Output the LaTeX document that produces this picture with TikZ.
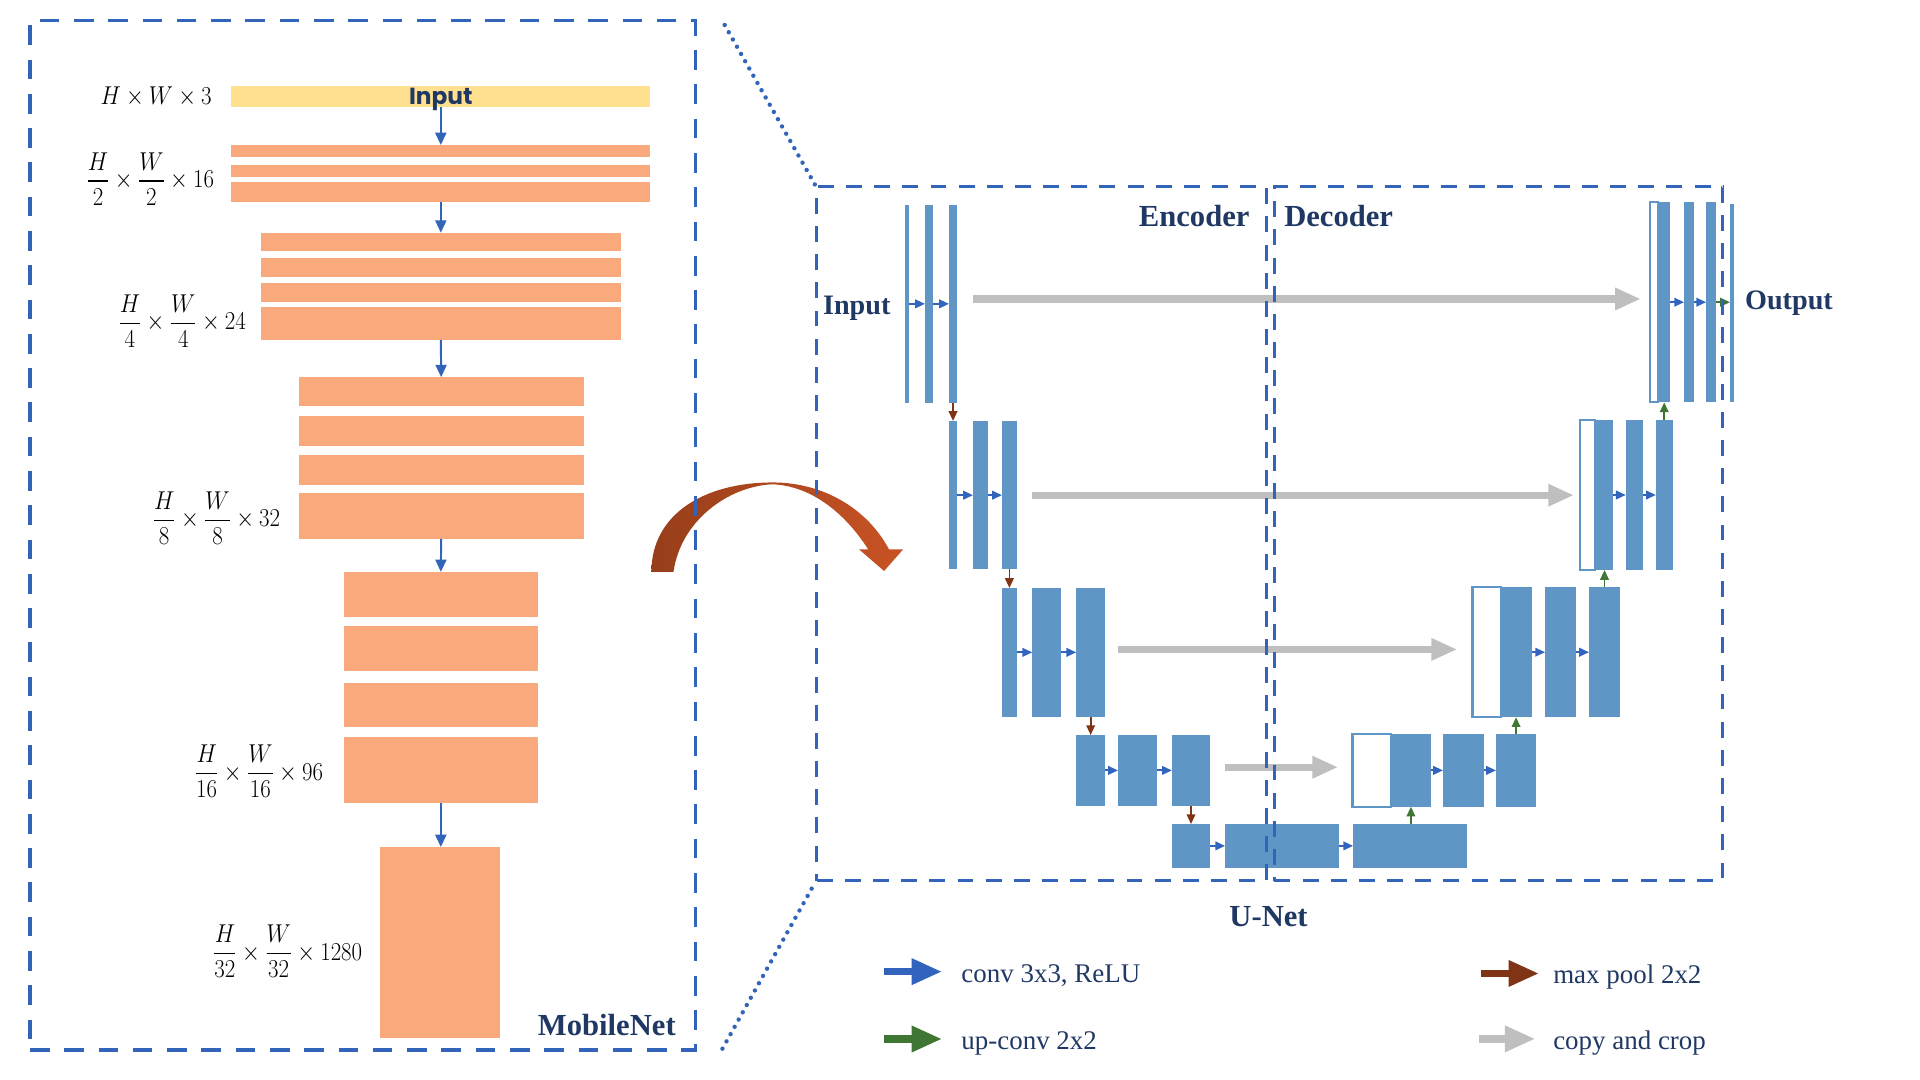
\documentclass[tikz,border=0pt]{standalone}
\usepackage{amsmath}
\usepackage{fontspec}
\setmainfont{Liberation Serif}
\newfontfamily\popfont{Poppins}
\usetikzlibrary{arrows.meta,fit,positioning}

\definecolor{titlenavy}{RGB}{31,56,100}
\definecolor{dashblue}{RGB}{50,100,185}
\definecolor{convblue}{RGB}{50,100,190}
\definecolor{ublue}{RGB}{96,150,197}
\definecolor{mnorange}{RGB}{249,169,124}
\definecolor{mnyellow}{RGB}{255,224,143}
\definecolor{poolbrown}{RGB}{128,52,22}
\definecolor{upgreen}{RGB}{64,118,52}
\definecolor{copygray}{RGB}{191,191,191}
\definecolor{arcbrown}{RGB}{150,62,26}
\definecolor{arcorange}{RGB}{201,83,36}

\newcommand{\dimtxt}[1]{\scalebox{1.08}[1.22]{$#1$}}

\begin{document}
\begin{tikzpicture}[x=1pt, y=-1pt,
    mnbar/.style={fill=mnorange, inner sep=0pt, outer sep=0pt},
    ublk/.style={fill=ublue, inner sep=0pt, outer sep=0pt},
    uout/.style={draw=ublue, fill=white, line width=1.8pt, inner sep=0pt, outer sep=0pt},
    mnbox/.style={draw=dashblue, line width=2.8pt, dash pattern=on 16pt off 12pt, inner sep=0pt},
    unbox/.style={draw=dashblue, line width=2.3pt, dash pattern=on 13pt off 10pt, inner sep=0pt},
    mnflow/.style={draw=dashblue, line width=1.6pt, -{Triangle[width=9pt,length=10pt]}},
    conv/.style={draw=convblue, line width=1.5pt, -{Triangle[width=7pt,length=8pt]}},
    pool/.style={draw=poolbrown, line width=1.5pt, -{Triangle[width=7pt,length=8pt]}},
    upc/.style={draw=upgreen, line width=1.5pt, -{Triangle[width=7pt,length=8pt]}},
    copyarr/.style={draw=copygray, line width=6pt, -{Triangle[width=17pt,length=21pt]}},
    legarr/.style={line width=6.3pt, -{Triangle[width=20pt,length=25pt]}},
    dimlbl/.style={font=\fontsize{17}{20}\selectfont, inner sep=0pt, anchor=east},
    ttl/.style={font=\fontsize{25}{29}\selectfont\bfseries, text=titlenavy, inner sep=0pt},
    iolbl/.style={ttl, font=\fontsize{23}{27}\selectfont\bfseries, anchor=base west},
    legtxt/.style={font=\fontsize{22}{26}\selectfont, text=titlenavy, inner sep=0pt, anchor=base west},
    dotln/.style={draw=dashblue, line width=3.6pt, line cap=round, dash pattern=on 0pt off 6.8pt}]
\useasboundingbox (0,0) rectangle (1568,882);

% MobileNet column
\node[fill=mnyellow, inner sep=0pt, outer sep=0pt, fit={(189,70) (531,87)}] (inp) {};
\node[font=\popfont\fontsize{19}{22}\selectfont\bfseries, text=titlenavy, anchor=base, inner sep=0pt] (inptxt) at (360,85.2) {Input};
\node[mnbar, fit={(189,118.4) (531,128.3)}] (m2a) {};
\node[mnbar, fit={(189,134.7) (531,144.6)}] (m2b) {};
\node[mnbar, fit={(189,149) (531,165)}] (m2c) {};
\node[mnbar, fit={(213,190) (507,205)}] (m3a) {};
\node[mnbar, fit={(213,210.5) (507,226)}] (m3b) {};
\node[mnbar, fit={(213,231) (507,247)}] (m3c) {};
\node[mnbar, fit={(213,251) (507,277.6)}] (m3d) {};
\node[mnbar, fit={(244,308) (476.6,331.6)}] (m4a) {};
\node[mnbar, fit={(244,340) (476.6,364)}] (m4b) {};
\node[mnbar, fit={(244,371.6) (476.6,396)}] (m4c) {};
\node[mnbar, fit={(244,403) (476.6,440)}] (m4d) {};
\node[mnbar, fit={(281,467) (439,504)}] (m5a) {};
\node[mnbar, fit={(281,511) (439,548)}] (m5b) {};
\node[mnbar, fit={(281,557.6) (439,594)}] (m5c) {};
\node[mnbar, fit={(281,602) (439,655.4)}] (m5d) {};
\node[mnbar, fit={(310,691.7) (408,848)}] (m6) {};

\draw[mnflow] (inp.south) -- (m2a.north);
\draw[mnflow] (m2c.south) -- (m3a.north);
\draw[mnflow] (m3d.south) -- (m4a.north);
\draw[mnflow] (m4d.south) -- (m5a.north);
\draw[mnflow] (m5d.south) -- (m5d.south |- m6.north);

\node[dimlbl] (dim1) at (173,79) {\dimtxt{H\times W\times 3}};
\node[dimlbl] (dim2) at (175,146) {\dimtxt{\dfrac{H}{2}\times\dfrac{W}{2}\times 16}};
\node[dimlbl] (dim3) at (201,262) {\dimtxt{\dfrac{H}{4}\times\dfrac{W}{4}\times 24}};
\node[dimlbl] (dim4) at (229,423) {\dimtxt{\dfrac{H}{8}\times\dfrac{W}{8}\times 32}};
\node[dimlbl] (dim5) at (264,630) {\dimtxt{\dfrac{H}{16}\times\dfrac{W}{16}\times 96}};
\node[dimlbl] (dim6) at (296,777) {\dimtxt{\dfrac{H}{32}\times\dfrac{W}{32}\times 1280}};

\node[ttl, anchor=base east] (mntxt) at (552,846) {MobileNet};

% curved arrow between the two parts
\shade[left color=arcbrown, right color=arcorange]
  (532,467) .. controls (532,420) and (575,394) .. (631,394)
  .. controls (672,394) and (708,415) .. (726,448.6)
  -- (737.6,448.6) -- (722,466.3) -- (701.5,448.6) -- (709,448.6)
  .. controls (692,422) and (665,397) .. (631,395.5)
  .. controls (595,397) and (556,425) .. (550,467) -- cycle;

\node[mnbox, fit={(24.5,16.6) (568,857.5)}] (mnet) {};

% U-Net encoder
\node[ublk, fit={(739,167.4) (742.4,328.9)}] (e11) {};
\node[ublk, fit={(755.4,167.4) (762,328.9)}] (e12) {};
\node[ublk, fit={(775,167.4) (781.6,328.9)}] (e13) {};
\node[ublk, fit={(775,343.8) (781.6,465)}] (e21) {};
\node[ublk, fit={(794.6,343.8) (806.6,465)}] (e22) {};
\node[ublk, fit={(818.3,343.8) (830.4,465)}] (e23) {};
\node[ublk, fit={(818.3,480.2) (830.4,585.3)}] (e31) {};
\node[ublk, fit={(843,480.2) (866.5,585.3)}] (e32) {};
\node[ublk, fit={(878.9,480.2) (902.5,585.3)}] (e33) {};
\node[ublk, fit={(878.9,600.3) (902.5,658)}] (e41) {};
\node[ublk, fit={(913,600.3) (945,658)}] (e42) {};
\node[ublk, fit={(957,600.3) (988.3,658)}] (e43) {};
\node[ublk, fit={(957,673) (988.3,708.6)}] (b1) {};
\node[ublk, fit={(1000.5,673) (1093.4,708.6)}] (b2) {};
\node[ublk, fit={(1105,673) (1198,708.6)}] (b3) {};

% U-Net decoder
\node[uout, fit={(1104.6,599.5) (1135.8,658.8)}] (d4o) {};
\node[ublk, fit={(1135.8,599.5) (1168.7,658.8)}] (d41) {};
\node[ublk, fit={(1178.4,599.5) (1212,658.8)}] (d42) {};
\node[ublk, fit={(1221.7,599.5) (1254.5,658.8)}] (d43) {};
\node[uout, fit={(1202.5,479.6) (1225.9,585.7)}] (d3o) {};
\node[ublk, fit={(1225.9,479.6) (1251,585.7)}] (d31) {};
\node[ublk, fit={(1261.8,479.6) (1286.8,585.7)}] (d32) {};
\node[ublk, fit={(1297.7,479.6) (1323,585.7)}] (d33) {};
\node[uout, fit={(1290.5,343) (1302.5,465.5)}] (d2o) {};
\node[ublk, fit={(1302.5,343) (1317.4,465.5)}] (d21) {};
\node[ublk, fit={(1327.7,343) (1341.6,465.5)}] (d22) {};
\node[ublk, fit={(1352.3,343) (1365.9,465.5)}] (d23) {};
\node[uout, fit={(1347.8,165) (1354,328.6)}] (d1o) {};
\node[ublk, fit={(1354,165) (1363.8,328.6)}] (d11) {};
\node[ublk, fit={(1375.3,165) (1383.4,328.6)}] (d12) {};
\node[ublk, fit={(1393.3,165) (1401.4,328.6)}] (d13) {};
\node[ublk, fit={(1412.8,166.8) (1416,328.3)}] (out) {};

% conv 3x3
\foreach \a/\b in {e11/e12, e12/e13, e21/e22, e22/e23, e31/e32, e32/e33, e41/e42, e42/e43, b1/b2, b2/b3,
                   d41/d42, d42/d43, d31/d32, d32/d33, d21/d22, d22/d23, d11/d12, d12/d13}
  \draw[conv] (\a.east) -- (\b.west);
\draw[upc] (d13.east) -- (d13.east -| out.west);

% max pool
\draw[pool] (e13.south) -- (e21.north);
\draw[pool] (e23.south) -- (e31.north);
\draw[pool] (e33.south) -- (e41.north);
\draw[pool] (e43.south) -- (b1.north);

% up-conv
\draw[upc] (b3.north -| d41.south) -- (d41.south);
\draw[upc] (d43.north) -- (d43.north |- d31.south);
\draw[upc] (d33.north) -- (d33.north |- d21.south);
\draw[upc] (d23.north) -- (d23.north |- d11.south);

% copy and crop
\draw[copyarr, shorten <=13pt, shorten >=7.8pt] ([yshift=4pt]e13.east) -- ([yshift=4pt]e13.east -| d1o.west);
\draw[copyarr, shorten <=12.4pt, shorten >=5.1pt] (e23.east) -- (e23.east -| d2o.west);
\draw[copyarr, shorten <=10.5pt, shorten >=12.5pt] ([yshift=2.4pt]e33.east) -- ([yshift=2.4pt]e33.east -| d3o.west);
\draw[copyarr, shorten <=12.2pt, shorten >=11.8pt] ([yshift=2.6pt]e43.east) -- ([yshift=2.6pt]e43.east -| d4o.west);

\node[iolbl] (intxt) at (672,257) {Input};
\node[iolbl] (outtxt) at (1425,252.6) {Output};
\node[ttl, anchor=base east] (enctxt) at (1020.6,185) {Encoder};
\node[ttl, anchor=base west] (dectxt) at (1048.6,185) {Decoder};
\node[ttl, anchor=base] (unettxt) at (1036,756.8) {U-Net};

\node[unbox, fit={(667,152.5) (1034.6,719.2)}] (enc) {};
\node[unbox, fit={(1040.8,152.5) (1407,719.2)}] (dec) {};

\coordinate (zoomtop) at (591.8,20.4);
\coordinate (zoombot) at (590,856.4);
\draw[dotln] (zoomtop) -- (enc.north west);
\draw[dotln] (zoombot) -- (enc.south west);

% legend
\coordinate (lg1a) at (722,793.5);   \coordinate (lg1b) at (769.5,793.5);
\coordinate (lg2a) at (722,848.5);   \coordinate (lg2b) at (769.5,848.5);
\coordinate (lg3a) at (1209.5,795);  \coordinate (lg3b) at (1257,795);
\coordinate (lg4a) at (1208,848.4);  \coordinate (lg4b) at (1254,848.4);
\draw[legarr, draw=convblue, fill=convblue] (lg1a) -- (lg1b);
\draw[legarr, draw=upgreen, fill=upgreen] (lg2a) -- (lg2b);
\draw[legarr, draw=poolbrown, fill=poolbrown] (lg3a) -- (lg3b);
\draw[legarr, draw=copygray, fill=copygray] (lg4a) -- (lg4b);
\node[legtxt] (lgt1) at (785,802.2) {conv 3x3, ReLU};
\node[legtxt] (lgt2) at (785,857) {up-conv 2x2};
\node[legtxt] (lgt3) at (1268.3,803) {max pool 2x2};
\node[legtxt] (lgt4) at (1268.3,857) {copy and crop};
\end{tikzpicture}
\end{document}
